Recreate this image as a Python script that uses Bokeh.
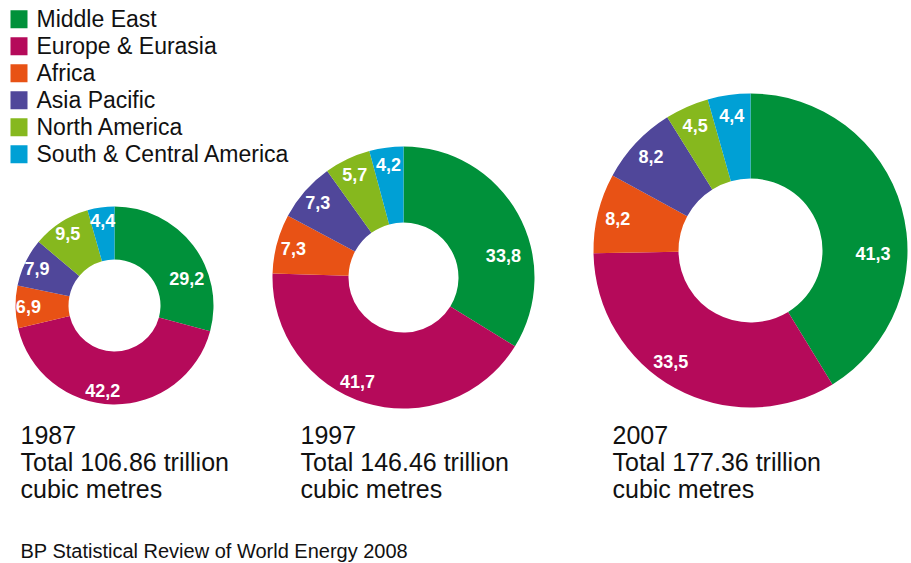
import numpy as np
from bokeh.plotting import figure
from bokeh.models import Range1d, ColumnDataSource
from bokeh.embed import file_html
from bokeh.resources import INLINE
from bokeh.core.properties import value

# ---------------- data ----------------
regions = ["Middle East", "Europe & Eurasia", "Africa", "Asia Pacific",
           "North America", "South & Central America"]
colors = ["#00913A", "#B50A5A", "#E85215", "#50479A", "#86B81E", "#00A0D5"]
years = ["1987", "1997", "2007"]
totals = ["106.86", "146.46", "177.36"]
shares_1987 = [29.2, 42.2, 6.9, 7.9, 9.5, 4.4]
shares_1997 = [33.8, 41.7, 7.3, 7.3, 5.7, 4.2]
shares_2007 = [41.3, 33.5, 8.2, 8.2, 4.5, 4.4]
source_note = "BP Statistical Review of World Energy 2008"

all_shares = [shares_1987, shares_1997, shares_2007]

# ---------------- layout (screen pixels) ----------------
W, H = 911, 563
FONT = "Liberation Sans"


def X(sx):
    return sx


def Y(sy):
    return H - sy


donut_centers = [(114, 305), (403, 277), (750, 250)]
donut_radii = [(99, 46), (131, 55), (157, 72)]
# label placement style: radius fraction and clockwise angle nudge (deg) per region
label_frac = [0.78, 0.87, 0.87, 0.87, 0.87, 0.87]
label_nudge = [17, 7, 0, 0, 0, 0]
caption_x = [20, 300, 612]
caption_centers = [434, 461, 488]

p = figure(width=W, height=H, x_range=Range1d(0, W), y_range=Range1d(0, H),
           output_backend="svg", toolbar_location=None, min_border=0,
           x_axis_location=None, y_axis_location=None)
p.grid.visible = False
p.outline_line_color = None
p.background_fill_color = "white"
p.border_fill_color = "white"

for i, shares in enumerate(all_shares):
    vals = np.array(shares, dtype=float)
    frac = vals / vals.sum()
    cum = np.concatenate([[0.0], np.cumsum(frac)])
    start = np.pi / 2 - 2 * np.pi * cum[:-1]
    end = np.pi / 2 - 2 * np.pi * cum[1:]
    cx, cy = donut_centers[i]
    R, r = donut_radii[i]
    src = ColumnDataSource(dict(start=start, end=end, color=colors))
    p.annular_wedge(x=X(cx), y=Y(cy), inner_radius=r, outer_radius=R,
                    start_angle="start", end_angle="end", direction="clock",
                    fill_color="color", line_color=None, source=src)
    mid = (np.pi / 2 - 2 * np.pi * (cum[:-1] + cum[1:]) / 2
           - np.radians(np.array(label_nudge, dtype=float)))
    lr = np.array(label_frac) * R
    lx = X(cx) + lr * np.cos(mid)
    ly = Y(cy) + lr * np.sin(mid)
    labels = [f"{v:.1f}".replace(".", ",") for v in shares]
    lsrc = ColumnDataSource(dict(x=lx, y=ly, t=labels))
    p.text(x="x", y="y", text="t", source=lsrc, text_color="white",
           text_font=value(FONT), text_font_style="bold",
           text_font_size="18px", text_align="center", text_baseline="middle")
    lines = [years[i], f"Total {totals[i]} trillion", "cubic metres"]
    p.text(x=[X(caption_x[i])] * 3, y=[Y(c) for c in caption_centers],
           text=lines, text_color="#111111", text_font=value(FONT),
           text_font_size="25px", text_align="left", text_baseline="middle")

# legend
row_centers = [18.8 + 27 * k for k in range(len(regions))]
p.rect(x=[X(18.5)] * len(regions), y=[Y(c) for c in row_centers],
       width=17, height=18, fill_color=colors, line_color=None)
p.text(x=[X(36)] * len(regions), y=[Y(c) for c in row_centers],
       text=regions, text_color="#111111", text_font=value(FONT),
       text_font_size="23px", text_align="left", text_baseline="middle")

# source note
p.text(x=[X(20)], y=[Y(550)], text=[source_note], text_color="#111111",
       text_font=value(FONT), text_font_size="20px", text_align="left",
       text_baseline="middle")

open("out.html", "w").write(file_html(p, INLINE))
